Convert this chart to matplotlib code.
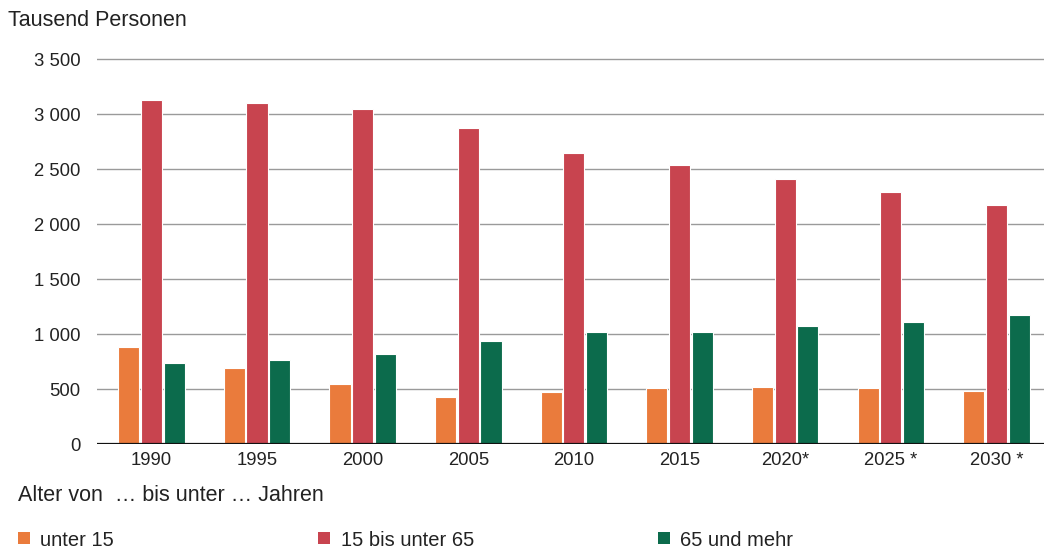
import numpy as np
import matplotlib
matplotlib.use("Agg")
import matplotlib.pyplot as plt
from matplotlib.patches import Rectangle

plt.rcParams['font.family'] = ['Liberation Sans', 'DejaVu Sans']

years = ["1990", "1995", "2000", "2005", "2010", "2015", "2020*", "2025 *", "2030 *"]
unter_15 = [880, 690, 545, 425, 475, 510, 520, 510, 485]
von_15_bis_65 = [3130, 3100, 3050, 2875, 2645, 2540, 2405, 2295, 2170]
ab_65 = [740, 760, 820, 940, 1015, 1015, 1075, 1110, 1170]
series_names = ["unter 15", "15 bis unter 65", "65 und mehr"]
colors = ["#EA7B3C", "#C8444F", "#0C6B4C"]
yticks = [0, 500, 1000, 1500, 2000, 2500, 3000, 3500]

TXT = "#222222"

fig = plt.figure(figsize=(10.44, 5.5), dpi=100)
ax = fig.add_axes([0.093, 0.1927, 0.907, 0.710])

x = np.arange(len(years))
w = 0.2
step = 0.215
for off, vals, c in zip((-step, 0, step), (unter_15, von_15_bis_65, ab_65), colors):
    ax.bar(x + off, vals, width=w, color=c, edgecolor="white", linewidth=0.8, zorder=3)

ax.set_xlim(-0.514, 8.45)
ax.set_ylim(0, 3550)
ax.set_yticks(yticks)
ax.set_yticklabels([f"{v:,}".replace(",", " ") for v in yticks], fontsize=13.3, color=TXT)
ax.set_xticks(x)
ax.set_xticklabels(years, fontsize=13.3, color=TXT)
ax.tick_params(axis="both", length=0)
ax.tick_params(axis="y", pad=12)
ax.tick_params(axis="x", pad=6)

for v in yticks[1:]:
    ax.axhline(v, color="#9a9a9a", linewidth=1.0, zorder=1)
ax.axhline(0, color="#111111", linewidth=1.6, zorder=4)
for s in ax.spines.values():
    s.set_visible(False)

fig.text(0.008, 0.962, "Tausend Personen", fontsize=15.5, color=TXT, va="center")
fig.text(0.017, 0.099, "Alter von  … bis unter … Jahren", fontsize=15.5, color=TXT, va="center")

leg_x = [0.017, 0.305, 0.630]
for lx, name, c in zip(leg_x, series_names, colors):
    fig.patches.append(Rectangle((lx, 0.0115), 0.0115, 0.021, transform=fig.transFigure,
                                 facecolor=c, edgecolor="none"))
    fig.text(lx + 0.0215, 0.017, name, fontsize=14.5, color=TXT, va="center")

fig.savefig("out.png", dpi=100, facecolor="white")
